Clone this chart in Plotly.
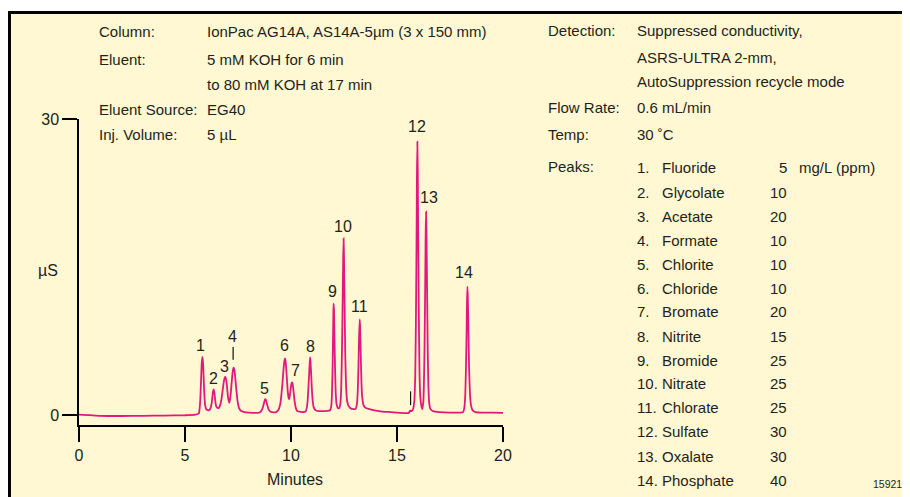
import plotly.graph_objects as go

# ---------------- data ----------------
chromatogram = [
    (0.00, 0.05), (0.50, 0.00), (1.00, -0.08), (2.00, -0.10), (3.00, -0.08), (4.00, -0.05),
    (5.00, -0.02), (5.50, 0.05), (5.60, 0.10),
    (5.66, 0.20), (5.70, 0.90), (5.73, 2.00), (5.76, 3.70), (5.79, 5.30), (5.82, 5.90),
    (5.85, 5.30), (5.88, 3.80), (5.91, 2.20), (5.95, 1.00), (6.00, 0.60), (6.08, 0.50), (6.15, 0.50),
    (6.22, 0.80), (6.26, 1.20), (6.29, 1.80), (6.32, 2.35), (6.35, 2.60), (6.38, 2.35),
    (6.41, 1.80), (6.44, 1.20), (6.48, 0.85), (6.55, 0.70), (6.59, 0.72),
    (6.66, 1.00), (6.72, 1.60), (6.77, 2.40), (6.82, 3.20), (6.86, 3.70), (6.90, 3.90),
    (6.94, 3.60), (6.98, 2.90), (7.03, 1.80), (7.09, 1.25),
    (7.14, 1.80), (7.19, 3.00), (7.23, 4.00), (7.27, 4.65), (7.30, 4.80), (7.33, 4.60),
    (7.37, 3.80), (7.42, 2.60), (7.48, 1.40), (7.55, 0.70), (7.65, 0.40), (7.80, 0.30),
    (8.00, 0.25), (8.45, 0.22),
    (8.55, 0.30), (8.62, 0.50), (8.68, 0.85), (8.73, 1.25), (8.77, 1.55), (8.79, 1.60),
    (8.82, 1.50), (8.87, 1.10), (8.93, 0.65), (9.00, 0.40), (9.10, 0.30), (9.30, 0.30),
    (9.40, 0.50), (9.48, 1.00), (9.54, 1.90), (9.60, 3.30), (9.65, 4.70), (9.69, 5.50),
    (9.72, 5.75), (9.75, 5.40), (9.79, 4.20), (9.84, 2.60), (9.88, 1.80), (9.92, 1.60),
    (9.96, 2.20), (10.00, 2.90), (10.03, 3.25), (10.05, 3.30), (10.08, 3.10), (10.12, 2.40),
    (10.17, 1.40), (10.23, 0.70), (10.30, 0.40), (10.45, 0.32), (10.63, 0.32),
    (10.70, 0.40), (10.75, 0.80), (10.79, 1.60), (10.82, 2.70), (10.85, 3.90), (10.88, 5.20),
    (10.90, 5.85), (10.92, 5.40), (10.95, 4.20), (10.98, 2.80), (11.02, 1.50), (11.07, 0.80),
    (11.15, 0.50), (11.30, 0.40), (11.60, 0.40), (11.80, 0.45),
    (11.85, 0.50), (11.90, 0.90), (11.93, 2.00), (11.96, 4.50), (11.98, 7.50), (12.00, 10.50),
    (12.01, 11.30), (12.03, 10.50), (12.05, 7.80), (12.08, 4.50), (12.11, 2.20), (12.15, 1.10),
    (12.22, 0.70),
    (12.28, 0.70), (12.33, 1.20), (12.37, 2.80), (12.40, 6.00), (12.43, 10.50), (12.46, 15.50),
    (12.48, 17.90), (12.50, 16.00), (12.53, 11.00), (12.56, 6.00), (12.60, 2.80), (12.65, 1.40),
    (12.72, 0.90), (12.80, 0.70), (12.95, 0.60), (13.05, 0.62),
    (13.11, 1.10), (13.15, 2.50), (13.18, 4.80), (13.21, 7.80), (13.24, 9.70), (13.26, 9.00),
    (13.29, 6.20), (13.32, 3.50), (13.36, 1.80), (13.42, 1.00), (13.50, 0.75), (13.70, 0.60),
    (14.00, 0.45), (14.30, 0.35), (14.70, 0.30), (15.00, 0.25), (15.40, 0.20), (15.55, 0.20),
    (15.62, 0.45), (15.68, 0.40), (15.76, 0.60),
    (15.82, 1.50), (15.86, 4.00), (15.89, 9.00), (15.92, 17.00), (15.94, 24.00), (15.96, 27.70),
    (15.98, 24.50), (16.00, 18.00), (16.03, 10.00), (16.06, 4.50), (16.10, 1.80), (16.15, 0.90),
    (16.19, 0.60),
    (16.24, 1.30), (16.27, 3.20), (16.30, 7.00), (16.33, 13.00), (16.35, 18.00), (16.37, 20.60),
    (16.39, 18.50), (16.42, 12.50), (16.45, 6.50), (16.48, 3.00), (16.52, 1.20), (16.58, 0.60),
    (16.70, 0.40), (17.00, 0.30), (17.50, 0.25), (18.00, 0.25), (18.12, 0.30),
    (18.18, 0.80), (18.22, 2.00), (18.25, 4.50), (18.28, 8.00), (18.30, 11.20), (18.32, 13.00),
    (18.34, 12.00), (18.37, 8.50), (18.40, 4.80), (18.44, 2.20), (18.49, 1.00), (18.56, 0.50),
    (18.70, 0.30), (19.00, 0.25), (19.50, 0.25), (20.00, 0.22),
]
trace_time = [p[0] for p in chromatogram]
trace_signal = [p[1] for p in chromatogram]

peak_numbers = [str(i) for i in range(1, 15)]
label_time = [5.74, 6.33, 6.85, 7.23, 8.77, 9.67, 10.19, 10.90, 11.97, 12.47, 13.25, 15.93, 16.52, 18.17]
label_signal = [7.02, 3.75, 4.90, 7.94, 2.70, 7.00, 4.56, 6.92, 12.50, 19.15, 10.98, 29.20, 22.06, 14.46]

# event marks (short vertical bars): time, low, high
mark_time = [7.27, 15.64]
mark_low = [5.6, 1.0]
mark_high = [6.9, 2.4]

x_ticks = [0, 5, 10, 15, 20]
y_ticks = [0, 30]

peak_names = ["Fluoride", "Glycolate", "Acetate", "Formate", "Chlorite", "Chloride", "Bromate",
              "Nitrite", "Bromide", "Nitrate", "Chlorate", "Sulfate", "Oxalate", "Phosphate"]
peak_conc = ["5", "10", "20", "10", "10", "10", "20", "15", "25", "25", "25", "30", "30", "40"]

left_labels = ["Column:", "Eluent:", "Eluent Source:", "Inj. Volume:"]
left_values = ["IonPac AG14A, AS14A-5µm (3 x 150 mm)", "5 mM KOH for 6 min",
               "to 80 mM KOH at 17 min", "EG40", "5 µL"]
right_labels = ["Detection:", "Flow Rate:", "Temp:", "Peaks:"]
right_values = ["Suppressed conductivity,", "ASRS-ULTRA 2-mm,", "AutoSuppression recycle mode",
                "0.6 mL/min", "30 ˚C"]

# ---------------- layout geometry ----------------
OFF = 8  # page body margin
W, H = 910 - OFF, 497 - OFF
L, R, T, B = 79 - OFF, 503 - OFF, 119 - OFF, 425 - OFF
FONT = "Liberation Sans, Arial, sans-serif"
TXT = "#231f20"
PINK = "#e2187e"
BG = "#fff8d2"


def px(x):
    return (x - OFF - L) / (R - L)


def py(y):
    return (B - (y - OFF)) / (B - T)


fig = go.Figure()

fig.add_trace(go.Scatter(
    x=trace_time, y=trace_signal, mode="lines",
    line=dict(color=PINK, width=1.8, shape="spline", smoothing=0.4),
    hoverinfo="skip", showlegend=False, cliponaxis=False,
))

mx, my = [], []
for t, lo, hi in zip(mark_time, mark_low, mark_high):
    mx += [t, t, None]
    my += [lo, hi, None]
fig.add_trace(go.Scatter(x=mx, y=my, mode="lines", line=dict(color="#111", width=1.2),
                         hoverinfo="skip", showlegend=False))

annotations = []


def txt(x, y, s, anchor="left", size=15):
    annotations.append(dict(
        x=px(x), y=py(y), xref="paper", yref="paper", text=s, showarrow=False,
        xanchor=anchor, yanchor="middle", borderpad=0, borderwidth=0,
        font=dict(family=FONT, size=size, color=TXT),
    ))


# peak number labels
for n, t, s in zip(peak_numbers, label_time, label_signal):
    annotations.append(dict(x=t, y=s, xref="x", yref="y", text=n, showarrow=False,
                            xanchor="center", yanchor="middle", borderpad=0,
                            font=dict(family=FONT, size=16, color=TXT)))

# left info block
for s, y in zip(left_labels, [31.3, 59.5, 109.5, 134.7]):
    txt(98.7, y, s)
for s, y in zip(left_values, [31.3, 59.5, 84.5, 109.5, 134.7]):
    txt(206.7, y, s)

# right info block
for s, y in zip(right_labels, [31, 108, 134, 166.5]):
    txt(547.7, y, s)
for s, y in zip(right_values, [31, 57.5, 81, 108, 134]):
    txt(637.3, y, s)

row_y = [167, 192.5, 216.5, 240, 264, 288, 311.5, 336, 360, 383.5, 407.5, 431.5, 456, 480]
for i, (name, conc, y) in enumerate(zip(peak_names, peak_conc, row_y)):
    txt(637.3, y, f"{i + 1}.")
    txt(661.7, y, name)
    txt(786.7, y, conc, anchor="right")
txt(799.3, row_y[0], "mg/L (ppm)")

# axis titles
txt(48, 270, "µS", anchor="center", size=16)
txt(295, 479, "Minutes", anchor="center", size=16)
txt(887, 484, "15921", anchor="center", size=10.5)

fig.update_layout(
    width=W, height=H,
    margin=dict(l=L, r=W - R, t=T, b=H - B, autoexpand=False),
    paper_bgcolor="white", plot_bgcolor="rgba(0,0,0,0)",
    annotations=annotations,
    shapes=[dict(type="rect", xref="paper", yref="paper",
                 x0=px(9.5), x1=px(930), y0=py(520), y1=py(12.5),
                 fillcolor=BG, line=dict(color="black", width=3), layer="below")],
    xaxis=dict(range=[0, 20], tickvals=x_ticks, ticks="outside", ticklen=15, tickwidth=1.5,
               tickcolor="black", showline=True, linecolor="black", linewidth=1.5,
               showgrid=False, zeroline=False, fixedrange=True,
               tickfont=dict(family=FONT, size=16, color=TXT)),
    yaxis=dict(range=[-1.01, 30], tickvals=y_ticks, ticks="outside", ticklen=15, tickwidth=1.5,
               tickcolor="black", showline=True, linecolor="black", linewidth=1.5,
               showgrid=False, zeroline=False, fixedrange=True,
               tickfont=dict(family=FONT, size=16, color=TXT)),
    showlegend=False,
)

fig.write_html("out.html")
